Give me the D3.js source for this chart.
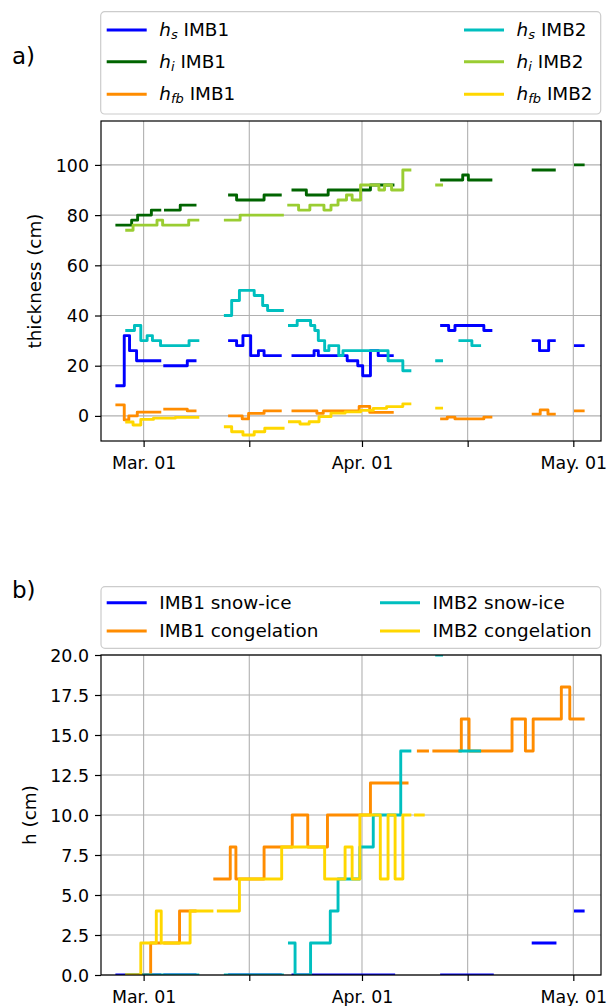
<!DOCTYPE html>
<html>
<head>
<meta charset="utf-8">
<script src="https://cdn.jsdelivr.net/npm/d3@7"></script>
<style>
  body { margin: 0; background: #fff; }
  svg { display: block; font-family: "DejaVu Sans", sans-serif; }
</style>
</head>
<body>
<svg id="chart" width="608" height="1006"></svg>
<script>
// time = days since 1 Mar 2021, null = gap in the record

// a) thickness (cm)
const hsIMB1 = [
  [-3.8, 12], [-2.75, 32], [-2.0, 26], [-1.0, 22], [2.3, 22], null,
  [3.0, 20], [6.2, 22], [7.3, 22], null,
  [12.2, 30], [13.2, 28], [14.1, 32], [15.2, 24], [16.3, 26], [17.1, 24], [19.4, 24], null,
  [21.2, 24], [24.2, 26], [24.8, 24], [28.9, 22], [30.4, 20], [31.1, 16], [32.2, 26], [33.3, 24], [35.3, 24], null,
  [42.3, 36], [43.3, 34], [44.2, 36], [48.3, 34], [49.3, 34], null,
  [55.3, 30], [56.2, 26], [57.5, 30], [58.3, 30], null,
  [61.3, 28], [62.4, 28]
];
const hiIMB1 = [
  [-3.8, 76], [-1.7, 78], [-0.85, 80], [1.1, 82], [2.3, 82], null,
  [3.1, 82], [5.2, 84], [7.3, 84], null,
  [12.2, 88], [13.2, 86], [17.1, 88], [19.4, 88], null,
  [21.2, 90], [23.1, 88], [26.2, 90], [32.2, 92], [35.4, 92], null,
  [42.3, 94], [45.3, 96], [46.1, 94], [49.3, 94], null,
  [55.3, 98], [58.3, 98], null,
  [61.3, 100], [62.4, 100]
];
const hfbIMB1 = [
  [-3.8, 4.4], [-2.75, -1.6], [-2.1, 0], [-0.9, 1.5], [2.3, 1.5], null,
  [3.0, 2.7], [6.2, 2.0], [7.3, 2.0], null,
  [12.2, 0], [14.0, -1.2], [14.9, 1], [17.1, 2], [19.4, 2], null,
  [21.2, 2], [24.6, 1], [25.5, 2], [30.6, 3.8], [32.1, 1.4], [35.3, 1.4], null,
  [42.3, -1.2], [43.1, -0.5], [44.2, -1.2], [48.3, -0.5], [49.3, -0.5], null,
  [55.3, 0.7], [56.3, 2.4], [57.4, 0.7], [58.3, 0.7], null,
  [61.3, 2], [62.4, 2]
];
const hsIMB2 = [
  [-2.4, 34], [-1.3, 36], [-0.4, 30], [0.5, 32], [1.25, 30], [2.4, 28], [6.45, 30], [7.7, 30], null,
  [11.6, 40], [12.5, 46], [13.6, 50], [15.7, 48], [16.9, 44], [17.6, 42], [19.7, 42], null,
  [20.7, 36], [21.8, 38], [23.7, 36], [24.3, 34], [24.8, 30], [25.7, 26], [26.3, 28], [27.7, 24], [28.3, 26], [34.7, 22], [36.8, 18], [37.8, 18], null,
  [41.6, 22], [42.3, 22], null,
  [44.9, 30], [46.6, 28], [47.7, 28]
];
const hiIMB2 = [
  [-2.4, 74], [-1.5, 76], [1.9, 78], [2.7, 76], [6.4, 78], [7.7, 78], null,
  [11.6, 78], [13.7, 80], [19.7, 80], null,
  [20.6, 84], [22.0, 82], [23.6, 84], [25.6, 82], [26.6, 84], [27.6, 86], [28.8, 88], [29.6, 86], [30.8, 92], [33.4, 90], [34.2, 92], [35.2, 90], [36.8, 98], [37.8, 98], null,
  [41.6, 92], [42.3, 92]
];
const hfbIMB2 = [
  [-2.4, -2.4], [-1.5, -3.6], [-0.4, -1.4], [1.4, -0.9], [4.5, -0.6], [7.7, -0.6], null,
  [11.6, -4.3], [12.5, -6.3], [14.1, -7.6], [15.7, -6.3], [17.2, -4.9], [19.8, -4.9], null,
  [20.7, -2.3], [22.2, -3.2], [23.5, -2.3], [24.9, -0.3], [26.6, 1.1], [28.6, 1.6], [30.8, 2.2], [32.6, 3.0], [34.5, 3.7], [36.8, 4.8], [37.8, 4.8], null,
  [41.6, 3.1], [42.3, 3.1]
];

// b) ice growth h (cm)
const snowIceIMB1 = [
  [-3.8, 0], [2.3, 0], null,
  [3.0, 0], [7.3, 0], null,
  [12.2, 0], [19.4, 0], null,
  [21.2, 0], [35.5, 0], null,
  [42.3, 0], [49.5, 0], null,
  [55.3, 2], [58.4, 2], null,
  [61.3, 4], [62.4, 4]
];
const congIMB1 = [
  [-2.4, 0], [1.0, 2], [2.3, 2], null,
  [3.0, 2], [5.1, 4], [7.3, 4], null,
  [10.1, 6], [12.3, 8], [13.1, 6], [17.1, 8], [21.1, 10], [23.3, 8], [26.1, 10], [32.2, 12], [37.4, 12], null,
  [39.0, 14], [40.3, 14], null,
  [41.2, 14], [45.1, 16], [46.2, 14], [52.3, 16], [54.2, 14], [55.3, 16], [59.3, 18], [60.5, 16], [62.4, 16]
];
const snowIceIMB2 = [
  [-2.4, 0], [7.7, 0], null,
  [11.6, 0], [19.7, 0], null,
  [20.7, 2], [21.5, 0], [23.7, 2], [26.5, 4], [27.6, 6], [30.7, 8], [32.6, 10], [36.5, 14], [37.8, 14], null,
  [41.6, 20], [42.3, 20], null,
  [44.9, 14], [47.7, 14]
];
const congIMB2 = [
  [-2.4, 0], [-0.4, 2], [1.8, 4], [2.5, 2], [6.6, 4], [9.7, 4], null,
  [10.6, 4], [13.6, 6], [19.6, 8], [25.7, 6], [28.6, 8], [29.6, 6], [30.7, 10], [33.6, 6], [34.7, 10], [35.7, 6], [36.8, 10], [37.8, 10], null,
  [38.6, 10], [39.7, 10]
];

const xTicks = ["2021-03-01", "2021-03-16", "2021-04-01", "2021-04-16", "2021-05-01"];
const yTicksA = [0, 20, 40, 60, 80, 100];
const yTicksB = [0, 2.5, 5, 7.5, 10, 12.5, 15, 17.5, 20];

const BLUE = "#0000ff", DGREEN = "#006400", ORANGE = "#ff8c00",
      CYAN = "#00bfbf", YGREEN = "#9acd32", GOLD = "#ffd700";

const FS = 17.4;   // tick labels
const LFS = 18.4;  // legend + axis labels
const svg = d3.select("#chart");
const t0 = Date.UTC(2021, 2, 1);
const day = d => new Date(t0 + d * 864e5);

const x = d3.scaleUtc().domain([day(-6.05), day(64.93)]).range([101, 601]);
const tickDates = xTicks.map(s => new Date(s + "T00:00:00Z"));
const fmt = d3.utcFormat("%b. %d");

function panel(top, yDomain, yTicks, yFmt, series, yLabel, labelX, clipId) {
  const h = 320;
  const y = d3.scaleLinear().domain(yDomain).range([top + h, top]);
  const g = svg.append("g");

  // grid
  g.append("g").selectAll("line").data(tickDates).join("line")
    .attr("x1", d => x(d)).attr("x2", d => x(d))
    .attr("y1", top).attr("y2", top + h)
    .attr("stroke", "#b0b0b0").attr("stroke-width", 1.1);
  g.append("g").selectAll("line").data(yTicks).join("line")
    .attr("x1", 101).attr("x2", 601)
    .attr("y1", d => y(d)).attr("y2", d => y(d))
    .attr("stroke", "#b0b0b0").attr("stroke-width", 1.1);

  svg.append("clipPath").attr("id", clipId).append("rect")
    .attr("x", 101).attr("y", top).attr("width", 500).attr("height", h);

  const line = d3.line()
    .defined(d => d)
    .x(d => x(day(d[0])))
    .y(d => y(d[1]))
    .curve(d3.curveStepAfter);

  g.append("g").attr("clip-path", `url(#${clipId})`)
    .selectAll("path").data(series).join("path")
    .attr("d", s => line(s.values))
    .attr("fill", "none")
    .attr("stroke", s => s.color)
    .attr("stroke-width", 2.9)
    .attr("stroke-linejoin", "round")
    .attr("stroke-linecap", "square");

  // axes
  g.append("g").attr("transform", `translate(0,${top + h})`)
    .call(d3.axisBottom(x).tickValues(tickDates)
      .tickFormat(d => d.getUTCDate() === 1 ? fmt(d) : "")
      .tickSize(6).tickSizeOuter(0))
    .call(a => a.select(".domain").remove())
    .call(a => a.attr("font-size", FS).attr("font-family", null))
    .call(a => a.selectAll("line").attr("stroke", "#000").attr("stroke-width", 1.2))
    .call(a => a.selectAll("text").attr("y", 28).attr("dy", null).attr("fill", "#000"));

  g.append("g").attr("transform", "translate(101,0)")
    .call(d3.axisLeft(y).tickValues(yTicks).tickFormat(yFmt).tickSize(6).tickSizeOuter(0))
    .call(a => a.select(".domain").remove())
    .call(a => a.attr("font-size", FS).attr("font-family", null))
    .call(a => a.selectAll("line").attr("stroke", "#000").attr("stroke-width", 1.2))
    .call(a => a.selectAll("text").attr("x", -12).attr("dy", "0.35em").attr("fill", "#000"));

  g.append("rect")
    .attr("x", 101).attr("y", top).attr("width", 500).attr("height", h)
    .attr("fill", "none").attr("stroke", "#000").attr("stroke-width", 1.2);

  g.append("text")
    .attr("transform", `translate(${labelX},${top + h / 2}) rotate(-90)`)
    .attr("text-anchor", "middle").attr("font-size", LFS)
    .text(yLabel);
}

panel(121, [-10, 117.5], yTicksA, d3.format("d"), [
  { values: hsIMB1, color: BLUE },
  { values: hiIMB1, color: DGREEN },
  { values: hfbIMB1, color: ORANGE },
  { values: hsIMB2, color: CYAN },
  { values: hiIMB2, color: YGREEN },
  { values: hfbIMB2, color: GOLD }
], "thickness (cm)", 41, "clipA");

panel(655, [0, 20], yTicksB, d3.format(".1f"), [
  { values: snowIceIMB1, color: BLUE },
  { values: congIMB1, color: ORANGE },
  { values: snowIceIMB2, color: CYAN },
  { values: congIMB2, color: GOLD }
], "h (cm)", 36, "clipB");

// panel letters
svg.append("text").attr("x", 12).attr("y", 64).attr("font-size", 23).text("a)");
svg.append("text").attr("x", 12).attr("y", 598).attr("font-size", 23).text("b)");

// legends
function legendBox(x0, y0, w, h) {
  svg.append("rect").attr("x", x0).attr("y", y0).attr("width", w).attr("height", h)
    .attr("rx", 4).attr("fill", "#fff").attr("fill-opacity", 0.8)
    .attr("stroke", "#cccccc").attr("stroke-width", 1.2);
}
function handle(x0, yc, color) {
  svg.append("line").attr("x1", x0).attr("x2", x0 + 40).attr("y1", yc).attr("y2", yc)
    .attr("stroke", color).attr("stroke-width", 2.9);
}

const legendA = [
  { sub: "s", name: "IMB1", color: BLUE, col: 0, row: 0 },
  { sub: "i", name: "IMB1", color: DGREEN, col: 0, row: 1 },
  { sub: "fb", name: "IMB1", color: ORANGE, col: 0, row: 2 },
  { sub: "s", name: "IMB2", color: CYAN, col: 1, row: 0 },
  { sub: "i", name: "IMB2", color: YGREEN, col: 1, row: 1 },
  { sub: "fb", name: "IMB2", color: GOLD, col: 1, row: 2 }
];
legendBox(100.7, 11.7, 500, 102.3);
const colA = [106.7, 464], rowA = [30, 61.7, 94.3];
legendA.forEach(e => {
  const hx = colA[e.col], yc = rowA[e.row];
  handle(hx, yc, e.color);
  const t = svg.append("text").attr("x", hx + 52.6).attr("y", yc + 6).attr("font-size", LFS);
  t.append("tspan").attr("font-style", "italic").text("h");
  t.append("tspan").attr("font-style", "italic").attr("font-size", 13).attr("dy", 3).text(e.sub);
  t.append("tspan").attr("dy", -3).text("\u00a0" + e.name);
});

const legendB = [
  { label: "IMB1 snow-ice", color: BLUE, col: 0, row: 0 },
  { label: "IMB1 congelation", color: ORANGE, col: 0, row: 1 },
  { label: "IMB2 snow-ice", color: CYAN, col: 1, row: 0 },
  { label: "IMB2 congelation", color: GOLD, col: 1, row: 1 }
];
legendBox(101, 586.7, 499.7, 61.6);
const colB = [106.7, 380], rowB = [602.7, 631];
legendB.forEach(e => {
  const hx = colB[e.col], yc = rowB[e.row];
  handle(hx, yc, e.color);
  svg.append("text").attr("x", hx + 52.6).attr("y", yc + 6.3).attr("font-size", LFS).text(e.label);
});
</script>
</body>
</html>
